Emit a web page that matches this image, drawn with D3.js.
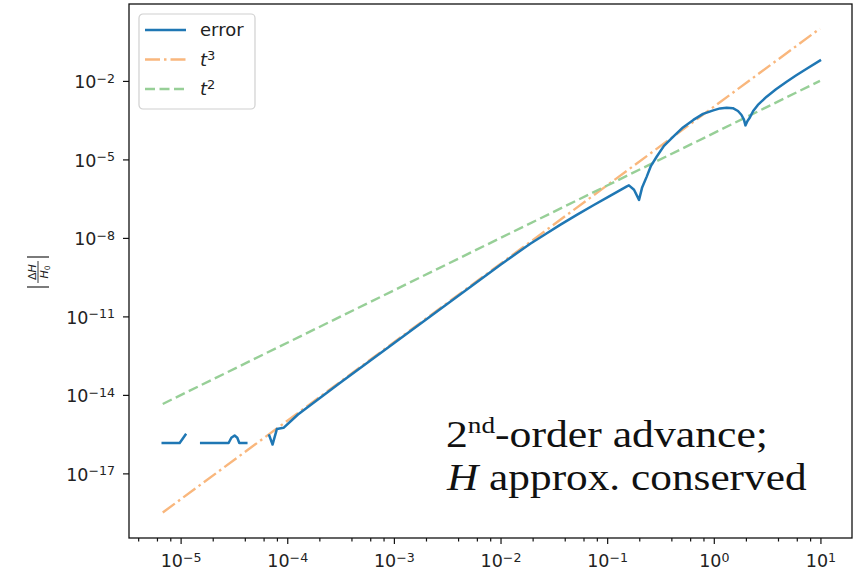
<!DOCTYPE html>
<html>
<head>
<meta charset="utf-8">
<script src="https://cdn.jsdelivr.net/npm/d3@7"></script>
<style>
  body { margin: 0; background: #fff; }
  #chart { width: 854px; height: 573px; }
  .tick text { font-family: "DejaVu Sans", sans-serif; fill: #222; }
</style>
</head>
<body>
<div id="chart"></div>
<script>
// time steps and |dH/H0| (null = exact zero, line breaks)
var tValues = [6.8e-6, 9.8e-6, 1.11e-5, 1.3e-5, 1.56e-5, 2.82e-5, 2.99e-5, 3.21e-5, 3.40e-5, 3.55e-5, 4.13e-5, 5.5e-5,
               6.78e-5, 7.28e-5, 8.0e-5, 9.23e-5, 1.26e-4, 3.16e-4, 1e-3, 3.16e-3, 1e-2, 1.9e-2, 2.63e-2, 3.62e-2,
               5.19e-2, 7.43e-2, 0.1064, 0.153, 0.160, 0.1786, 0.199, 0.2123, 0.235, 0.2576, 0.292, 0.341, 0.417,
               0.514, 0.643, 0.793, 0.989, 1.143, 1.32, 1.51, 1.686, 1.82, 1.92, 1.98, 2.07, 2.18, 2.34, 2.59,
               3.13, 3.83, 4.82, 5.89, 7.43, 9.9];
var errorValues = [1.45e-16, 1.45e-16, 3.0e-16, null, 1.45e-16, 1.45e-16, 2.3e-16, 2.8e-16, 2.3e-16, 1.45e-16, 1.45e-16, null,
                   2.8e-16, 1.26e-16, 5.0e-16, 5.5e-16, 1.78e-15, 3.0e-14, 9.5e-13, 3.0e-11, 9.5e-10, 6.0e-9, 1.38e-8, 3.16e-8,
                   7.6e-8, 1.77e-7, 4.06e-7, 9.35e-7, 1.02e-6, 6.9e-7, 2.85e-7, 8.2e-7, 2.2e-6, 5.7e-6, 1.29e-5, 3.3e-5, 7.4e-5,
                   1.67e-4, 3.24e-4, 5.5e-4, 7.5e-4, 8.9e-4, 9.5e-4, 9.1e-4, 7.1e-4, 5.0e-4, 3.24e-4, 2.0e-4, 2.96e-4, 4.0e-4, 7.1e-4, 1.21e-3,
                   2.5e-3, 4.77e-3, 9.3e-3, 1.6e-2, 2.92e-2, 6.0e-2];
// reference slopes, end points only
var refT = [6.8e-6, 9.9];
var cubeValues = [3.2e-19, 1.0];
var squareValues = [4.5e-15, 1.0e-2];

var xMajorExp = [-5, -4, -3, -2, -1, 0, 1];
var yMajorExp = [-2, -5, -8, -11, -14, -17];
var legendNames = ['error', 't3', 't2'];

var margin = {top: 4, right: 2, bottom: 35, left: 129};
var colors = {error: '#1f77b4', cube: '#f9b77d', square: '#97cf97'};

var createGraph = function createGraph() {
    var width = 854, height = 573;
    var graphWidth = width - margin.left - margin.right;
    var graphHeight = height - margin.top - margin.bottom;

    var svg = d3.select('#chart').append('svg')
                .attr('width', width)
                .attr('height', height);

    var graph = svg.append('g')
                   .attr('transform', 'translate(' + margin.left + ', ' + margin.top + ')');

    var x = d3.scaleLog()
              .domain([Math.pow(10, -5.484), Math.pow(10, 1.296)])
              .range([0, graphWidth]);
    var y = d3.scaleLog()
              .domain([Math.pow(10, -19.47), Math.pow(10, 0.94)])
              .range([graphHeight, 0]);

    createAxis(graph, x, y, graphWidth, graphHeight);
    createLines(graph, x, y, graphWidth, graphHeight);

    // frame
    graph.append('rect')
         .attr('width', graphWidth).attr('height', graphHeight)
         .attr('fill', 'none').attr('stroke', '#111').attr('stroke-width', 1.3);

    createLegend(graph);
    createLabels(svg);
}

var supLabel = function supLabel(sel, exp) {
    sel.text(null);
    sel.append('tspan').text('10');
    sel.append('tspan')
       .attr('dy', '-0.45em')
       .attr('font-size', '0.72em')
       .text(String(exp).replace('-', '\u2212'));
}

var createAxis = function createAxis(graph, x, y, graphWidth, graphHeight) {
    var xMinor = [];
    for (var e = -6; e <= 1; e++) {
        [2, 4, 6, 8].forEach(function(s) {
            var v = s * Math.pow(10, e);
            if (v > x.domain()[0] && v < x.domain()[1]) xMinor.push(v);
        });
    }

    var xAxis = d3.axisBottom(x)
                  .tickValues(xMajorExp.map(function(e) { return Math.pow(10, e); }))
                  .tickSize(6).tickPadding(5);
    var xMinorAxis = d3.axisBottom(x).tickValues(xMinor).tickSize(3.5).tickFormat('');
    var yAxis = d3.axisLeft(y)
                  .tickValues(yMajorExp.map(function(e) { return Math.pow(10, e); }))
                  .tickSize(6).tickPadding(8);

    var gx = graph.append('g')
                  .attr('transform', 'translate(0, ' + graphHeight + ')')
                  .call(xAxis);
    gx.selectAll('.tick text')
      .attr('font-size', 17.5)
      .attr('dy', '1.05em')
      .each(function(d, i) { supLabel(d3.select(this), xMajorExp[i]); });

    graph.append('g')
         .attr('transform', 'translate(0, ' + graphHeight + ')')
         .call(xMinorAxis);

    var gy = graph.append('g').call(yAxis);
    gy.selectAll('.tick text')
      .attr('font-size', 17.5)
      .attr('dy', '0.4em')
      .each(function(d, i) { supLabel(d3.select(this), yMajorExp[i]); });

    graph.selectAll('.domain').remove();
    graph.selectAll('.tick line').attr('stroke', '#111').attr('stroke-width', 1.2);
}

var createLines = function createLines(graph, x, y, graphWidth, graphHeight) {
    graph.append('clipPath').attr('id', 'plot-clip')
         .append('rect').attr('width', graphWidth).attr('height', graphHeight);

    var line = d3.line()
                 .defined(function(d) { return d[1] != null; })
                 .x(function(d) { return x(d[0]); })
                 .y(function(d) { return y(d[1]); });

    var plot = graph.append('g').attr('clip-path', 'url(#plot-clip)');

    plot.append('path')
        .datum(d3.zip(refT, cubeValues))
        .attr('d', line)
        .attr('fill', 'none')
        .attr('stroke', colors.cube).attr('stroke-width', 2.4)
        .attr('stroke-dasharray', '15,4,2.5,4');

    plot.append('path')
        .datum(d3.zip(refT, squareValues))
        .attr('d', line)
        .attr('fill', 'none')
        .attr('stroke', colors.square).attr('stroke-width', 2.4)
        .attr('stroke-dasharray', '10,4.5');

    plot.append('path')
        .datum(d3.zip(tValues, errorValues))
        .attr('d', line)
        .attr('fill', 'none')
        .attr('stroke', colors.error).attr('stroke-width', 2.5)
        .attr('stroke-linejoin', 'round').attr('stroke-linecap', 'square');
}

var createLegend = function createLegend(graph) {
    var lg = graph.append('g').attr('transform', 'translate(10, 10)');
    lg.append('rect')
      .attr('width', 116).attr('height', 95).attr('rx', 4)
      .attr('fill', 'white').attr('fill-opacity', 0.8)
      .attr('stroke', '#d0d0d0').attr('stroke-width', 1.2);

    var styles = [
        {color: colors.error, dash: null},
        {color: colors.cube, dash: '15,4,2.5,4'},
        {color: colors.square, dash: '10,4.5'}
    ];
    legendNames.forEach(function(name, i) {
        var cy = 16 + i * 29.5;
        lg.append('line')
          .attr('x1', 6).attr('x2', 47).attr('y1', cy).attr('y2', cy)
          .attr('stroke', styles[i].color).attr('stroke-width', 2.5)
          .attr('stroke-dasharray', styles[i].dash);
        var t = lg.append('text')
                  .attr('x', 61).attr('y', cy + 6)
                  .attr('font-family', 'DejaVu Sans, sans-serif')
                  .attr('font-size', 18).attr('fill', '#222');
        if (i === 0) {
            t.text(name);
        } else {
            t.append('tspan').attr('font-style', 'italic').text('t');
            t.append('tspan').attr('dy', '-0.45em').attr('font-size', '0.72em').text(name.slice(1));
        }
    });
}

var createLabels = function createLabels(svg) {
    // y label |ΔH / H0|, rotated
    var yl = svg.append('g')
                .attr('transform', 'translate(38, 272) rotate(-90)')
                .attr('font-family', 'DejaVu Sans, sans-serif')
                .attr('fill', '#222');
    [-15, 15].forEach(function(px) {
        yl.append('line')
          .attr('x1', px).attr('x2', px).attr('y1', -11).attr('y2', 11)
          .attr('stroke', '#222').attr('stroke-width', 1.2);
    });
    yl.append('line')
      .attr('x1', -11).attr('x2', 11).attr('y1', 0).attr('y2', 0)
      .attr('stroke', '#222').attr('stroke-width', 0.9);
    var num = yl.append('text').attr('text-anchor', 'middle').attr('y', -2.5).attr('font-size', 11);
    num.append('tspan').text('\u0394');
    num.append('tspan').attr('font-style', 'italic').text('H');
    var den = yl.append('text').attr('text-anchor', 'middle').attr('y', 10).attr('font-size', 11);
    den.append('tspan').attr('font-style', 'italic').text('H');
    den.append('tspan').attr('font-size', 7.5).attr('dy', 1.5).text('0');

    // annotation (the reference text is a little stretched horizontally)
    var note = svg.append('g')
                  .attr('font-family', 'Liberation Serif, Times New Roman, serif')
                  .attr('font-size', 38.5).attr('fill', '#111');
    var l1 = note.append('text').attr('transform', 'translate(446, 447) scale(1.135, 1)');
    l1.append('tspan').text('2');
    l1.append('tspan').attr('dy', -14).attr('font-size', 24).text('nd');
    l1.append('tspan').attr('dy', 14).text('-order advance;');
    var l2 = note.append('text').attr('transform', 'translate(447, 490) scale(1.125, 1)');
    l2.append('tspan').attr('font-style', 'italic').text('H');
    l2.append('tspan').text(' approx. conserved');
}

createGraph();
</script>
</body>
</html>
